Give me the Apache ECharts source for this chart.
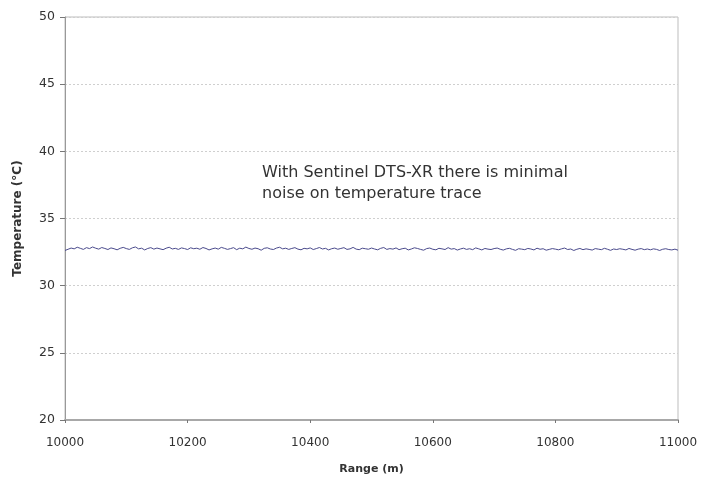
<!DOCTYPE html>
<html>
<head>
<meta charset="utf-8">
<script src="https://cdn.jsdelivr.net/npm/echarts@6/dist/echarts.min.js"></script>
<style>
  html, body { margin: 0; padding: 0; background: #fff; }
  #chart { width: 715px; height: 480px; }
</style>
</head>
<body>
<div id="chart"></div>
<script>
// range axis: one reading every 5 m starting at 10000 m
var rangeStart = 10000;
var rangeStep = 5;
var temperature = [
  32.62, 32.71, 32.80, 32.74, 32.86, 32.78, 32.70, 32.83, 32.76, 32.88,
  32.79, 32.72, 32.84, 32.77, 32.69, 32.81, 32.75, 32.67, 32.78, 32.85,
  32.76, 32.70, 32.82, 32.88, 32.74, 32.79, 32.66, 32.77, 32.83, 32.72,
  32.80, 32.74, 32.68, 32.79, 32.86, 32.73, 32.78, 32.70, 32.81, 32.76,
  32.69, 32.82, 32.75, 32.79, 32.71, 32.84, 32.77, 32.66, 32.74, 32.80,
  32.72, 32.85, 32.78, 32.70, 32.76, 32.83, 32.68, 32.79, 32.74, 32.87,
  32.77, 32.71, 32.80, 32.75, 32.64, 32.78, 32.82, 32.73, 32.69, 32.80,
  32.86, 32.74, 32.79, 32.70, 32.77, 32.83, 32.72, 32.67, 32.78, 32.74,
  32.81, 32.69, 32.76, 32.84, 32.73, 32.78, 32.66, 32.75, 32.80, 32.71,
  32.77, 32.83, 32.70, 32.74, 32.85, 32.72, 32.68, 32.79, 32.75, 32.71,
  32.80, 32.73, 32.67, 32.78, 32.84, 32.70, 32.76, 32.72, 32.81, 32.68,
  32.75, 32.79, 32.66, 32.73, 32.82, 32.77, 32.70, 32.64, 32.76, 32.80,
  32.71, 32.67, 32.78, 32.74, 32.69, 32.83, 32.72, 32.76, 32.65, 32.73,
  32.79, 32.70, 32.75, 32.68, 32.81, 32.74, 32.66, 32.77, 32.72, 32.69,
  32.76, 32.80, 32.71, 32.65, 32.74, 32.78, 32.70, 32.63, 32.75, 32.72,
  32.68, 32.77, 32.73, 32.66, 32.79, 32.71, 32.75, 32.64, 32.70, 32.76,
  32.72, 32.67, 32.74, 32.80, 32.69, 32.73, 32.62, 32.71, 32.77, 32.68,
  32.74, 32.70, 32.65, 32.76, 32.72, 32.68, 32.78, 32.71, 32.63, 32.73,
  32.69, 32.75, 32.71, 32.66, 32.77, 32.70, 32.64, 32.72, 32.76, 32.68,
  32.73, 32.67, 32.74, 32.70, 32.62, 32.71, 32.75, 32.69, 32.66, 32.72,
  32.64
];
var noteLines = ["With Sentinel DTS-XR there is minimal", "noise on temperature trace"];

var points = temperature.map(function (t, i) {
  return [rangeStart + i * rangeStep, t];
});

var font = "'DejaVu Sans', 'Open Sans', sans-serif";
var chart = echarts.init(document.getElementById("chart"));
chart.setOption({
  animation: false,
  backgroundColor: "#fff",
  grid: {
    left: 65,
    right: 37,
    top: 17,
    bottom: 57,
    show: true,
    borderColor: "#bdbdbd",
    borderWidth: 1
  },
  xAxis: {
    type: "value",
    min: 10000,
    max: 11000,
    interval: 200,
    name: "Range (m)",
    nameLocation: "middle",
    nameGap: 44,
    nameTextStyle: { fontFamily: font, fontSize: 11, fontWeight: "bold", color: "#333" },
    axisLine: { show: true, lineStyle: { color: "#a8a8a8", width: 2 } },
    axisTick: { show: true, length: 3, lineStyle: { color: "#777" } },
    axisLabel: {
      fontFamily: font, fontSize: 12, color: "#333", margin: 17,
      formatter: function (v) { return String(v); }
    },
    splitLine: { show: false }
  },
  yAxis: {
    type: "value",
    min: 20,
    max: 50,
    interval: 5,
    name: "Temperature (°C)",
    nameLocation: "middle",
    nameGap: 41,
    nameRotate: 90,
    nameTextStyle: { fontFamily: font, fontSize: 12, fontWeight: "bold", color: "#333" },
    axisLine: { show: true, lineStyle: { color: "#999", width: 1 } },
    axisTick: { show: true, length: 5, lineStyle: { color: "#777" } },
    axisLabel: { fontFamily: font, fontSize: 12.5, color: "#333", margin: 10 },
    splitLine: { show: true, lineStyle: { color: "#cfcfcf", type: [2, 2], width: 1 } }
  },
  series: [
    {
      type: "line",
      data: points,
      showSymbol: false,
      lineStyle: { color: "#4a4a8c", width: 1 },
      z: 3
    }
  ],
  graphic: [
    {
      type: "text",
      left: 262,
      top: 162,
      style: {
        text: noteLines.join("\n"),
        font: "16px " + font,
        lineHeight: 21,
        fill: "#333"
      }
    }
  ]
});
</script>
</body>
</html>
